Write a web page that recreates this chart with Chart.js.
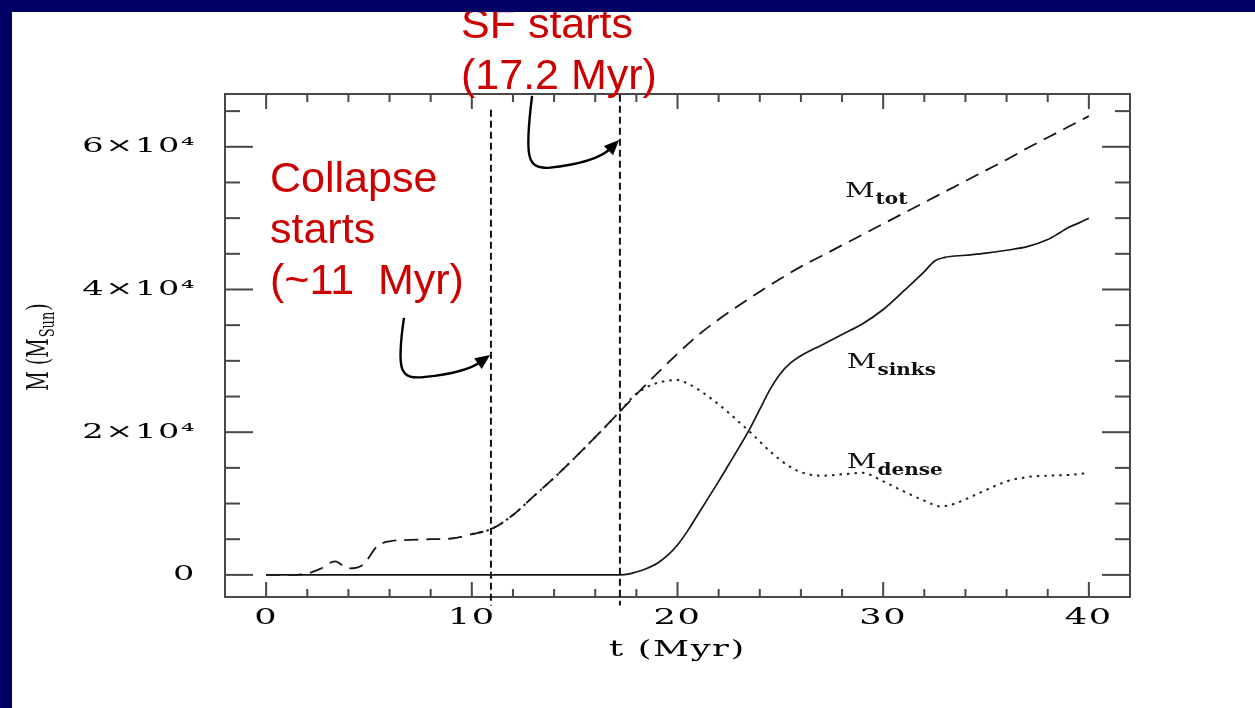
<!DOCTYPE html>
<html><head><meta charset="utf-8">
<script src="https://cdn.jsdelivr.net/npm/chart.js@4.4.1/dist/chart.umd.min.js"></script>
<style>
html,body{margin:0;padding:0;background:#fff;width:1255px;height:708px;overflow:hidden;}
#wrap{position:relative;width:1255px;height:708px;background:#fff;}
.bar{position:absolute;background:#000066;z-index:2;}
canvas{position:absolute;left:0;top:0;z-index:1;}
</style></head><body>
<div id="wrap">
<canvas id="c" width="1255" height="708"></canvas>
<div class="bar" style="left:0;top:0;width:1255px;height:12px"></div>
<div class="bar" style="left:0;top:0;width:12px;height:708px"></div>
</div>
<script>
// ---- data (t in Myr, masses in solar masses) ----
const tTot = [0,1,2,2.6,3.35,4,4.7,5.4,6,7,8,9,10,11,12,13,14,15,16,17,18,19,20,21,22,23,24,25,26,27,28,29,30,31,32,33,34,35,36,37,38,39,40];
const mTot = [0,0,200,800,1900,900,1400,4000,4700,4900,5000,5100,5700,6500,8400,11000,13600,16400,19300,22300,25300,28200,31000,33600,35800,37800,39700,41500,43200,44700,46200,47700,49200,50700,52200,53700,55200,56700,58200,59800,61300,62800,64300];

const tSinks = [0,17.2,17.6,18,18.5,19,19.5,20,20.5,21,21.5,22,22.5,23,23.5,24,24.5,25,25.5,26,27,28,29,30,31,32,32.5,33,34,35,36,37,38,38.5,39,39.5,40];
const mSinks = [0,0,100,400,900,1600,2700,4200,6200,8500,10800,13100,15500,17900,20400,23200,26000,28200,29700,30700,32200,33700,35200,37200,39800,42500,44000,44500,44800,45100,45500,46000,47000,47800,48700,49300,50000];

const tDense = [10,11,12,13,14,15,16,17,17.5,18,18.5,19,19.5,20,20.5,21,21.5,22,22.5,23,23.5,24,24.5,25,25.5,26,27,28,29,30,31,32,32.8,33.5,34,35,36,37,38,39,40];
const mDense = [5700,6500,8400,11000,13600,16400,19300,22300,23900,25400,26300,26900,27200,27300,26800,26000,25000,23900,22700,21400,20100,18700,17300,16100,15100,14400,13900,14100,14300,13100,11700,10400,9600,10000,10600,11900,13100,13700,13900,14000,14300];

// ---- axes / ticks ----
const xTickValues = [0,10,20,30,40];
const xTickLabels = ['0','10','20','30','40'];
const yTickValues = [0,20000,40000,60000];
const yTickLabels = ['0','2×10⁴','4×10⁴','6×10⁴'];
const xTitle = 't (Myr)';

// ---- annotations (data coordinates) ----
const eventTimes = [10.93, 17.2];          // vertical dashed lines
const eventTops = [65200, 67300];
const seriesLabels = [
  {sub:'tot',   t:28.14, v:53000},
  {sub:'sinks', t:28.23, v:28970},
  {sub:'dense', t:28.23, v:14950}
];
const arrows = [
  [[6.70,36020],[6.32,28450],[6.51,27330],[7.73,27750],[9.67,28310],[10.89,30830]],
  [[12.93,67130],[12.54,58160],[12.73,57040],[13.71,57040],[16.04,57740],[17.16,60960]]
];
const noteCollapse = ['Collapse','starts','(~11  Myr)'];
const noteSF = ['SF starts','(17.2 Myr)'];

const toXY = (ts, ms) => ts.map((t,i)=>({x:t, y:ms[i]}));

const annot = {
  id:'annot',
  beforeDraw(chart){
    // axis texts of the original figure are horizontally stretched
    const ctx = chart.ctx;
    const orig = CanvasRenderingContext2D.prototype.fillText;
    ctx.fillText = function(text, x, y){ this.save(); this.translate(x, y); this.scale(1.6, 1); orig.call(this, text, 0, 0); this.restore(); };
    ctx.letterSpacing = '1px';
  },
  beforeDatasetsDraw(chart){ delete chart.ctx.fillText; chart.ctx.letterSpacing = '0px'; },
  afterDraw(chart){
    const ctx = chart.ctx, xs = chart.scales.x, ys = chart.scales.y, a = chart.chartArea;
    delete ctx.fillText;
    const X = v => xs.getPixelForValue(v), Y = v => ys.getPixelForValue(v);
    ctx.save();
    ctx.letterSpacing = '0px';
    const line = (x1,y1,x2,y2) => { ctx.beginPath(); ctx.moveTo(x1,y1); ctx.lineTo(x2,y2); ctx.stroke(); };
    // frame + inward ticks
    ctx.strokeStyle = '#484848'; ctx.lineWidth = 2; ctx.setLineDash([]);
    ctx.strokeRect(a.left, a.top, a.right-a.left, a.bottom-a.top);
    for (let t = 0; t <= 40; t += 2) {
      const px = X(t), L = xTickValues.includes(t) ? 15 : 8;
      line(px, a.bottom, px, a.bottom-L); line(px, a.top, px, a.top+L);
    }
    for (let v = 0; v <= 65000; v += 5000) {
      const py = Y(v), L = yTickValues.includes(v) ? 28 : 15;
      line(a.left, py, a.left+L, py); line(a.right, py, a.right-L, py);
    }
    // vertical event lines
    ctx.strokeStyle = '#111'; ctx.lineWidth = 2; ctx.setLineDash([7,4]);
    eventTimes.forEach((t,i) => line(X(t), Y(eventTops[i]), X(t), Y(-4300)));
    ctx.setLineDash([]);
    // arrows
    ctx.strokeStyle = '#000'; ctx.fillStyle = '#000'; ctx.lineWidth = 2.4;
    arrows.forEach(p => {
      const q = p.map(([t,v]) => [X(t), Y(v)]);
      ctx.beginPath();
      ctx.moveTo(q[0][0], q[0][1]);
      ctx.bezierCurveTo(q[1][0],q[1][1],q[2][0],q[2][1],q[3][0],q[3][1]);
      const ang = Math.atan2(q[5][1]-q[4][1], q[5][0]-q[4][0]);
      const hl = 15, hw = 6.5;
      const bx = q[5][0]-hl*Math.cos(ang), by = q[5][1]-hl*Math.sin(ang);
      ctx.quadraticCurveTo(q[4][0],q[4][1],bx+3*Math.cos(ang),by+3*Math.sin(ang));
      ctx.stroke();
      ctx.beginPath();
      ctx.moveTo(q[5][0], q[5][1]);
      ctx.lineTo(bx - hw*Math.sin(ang), by + hw*Math.cos(ang));
      ctx.lineTo(bx + hw*Math.sin(ang), by - hw*Math.cos(ang));
      ctx.closePath(); ctx.fill();
    });
    // series labels
    ctx.fillStyle = '#111'; ctx.textBaseline = 'alphabetic'; ctx.textAlign = 'left';
    seriesLabels.forEach(s => {
      const px = X(s.t), py = Y(s.v);
      ctx.save(); ctx.translate(px, py); ctx.scale(1.45,1);
      ctx.font = '20px "DejaVu Serif"'; ctx.fillText('M', 0, 0);
      const w = ctx.measureText('M').width * 1.45;
      ctx.restore();
      ctx.save(); ctx.translate(px + w + 1, py + 7); ctx.scale(1.25,1);
      ctx.font = 'bold 16px "DejaVu Serif"'; ctx.fillText(s.sub, 0, 0);
      ctx.restore();
    });
    // y axis title  M (M_Sun)
    ctx.save();
    ctx.translate(48, 347); ctx.rotate(-Math.PI/2); ctx.scale(1, 1.6);
    ctx.font = '19px "DejaVu Serif"';
    const p1 = 'M (M', p3 = ')';
    const w1 = ctx.measureText(p1).width, w3 = ctx.measureText(p3).width;
    ctx.font = '13px "DejaVu Serif"';
    const w2 = ctx.measureText('Sun').width;
    let sx = -(w1+w2+w3+2)/2;
    ctx.font = '19px "DejaVu Serif"'; ctx.fillText(p1, sx, 0);
    ctx.font = '13px "DejaVu Serif"'; ctx.fillText('Sun', sx + w1 + 1, 4);
    ctx.font = '19px "DejaVu Serif"'; ctx.fillText(p3, sx + w1 + w2 + 2, 0);
    ctx.restore();
    // red notes
    ctx.fillStyle = '#cc0000'; ctx.font = '43px "Liberation Sans"'; ctx.textAlign = 'left';
    noteCollapse.forEach((s,i) => ctx.fillText(s, 270, 192 + 51*i));
    noteSF.forEach((s,i) => ctx.fillText(s, 461, 38 + 51*i));
    ctx.restore();
  }
};

new Chart(document.getElementById('c'), {
  type: 'scatter',
  data: {
    datasets: [
      {label:'M_sinks', data: toXY(tSinks, mSinks), showLine:true, borderColor:'#151515', borderWidth:1.7, pointRadius:0, cubicInterpolationMode:'monotone'},
      {label:'M_tot', data: toXY(tTot, mTot), showLine:true, borderColor:'#151515', borderWidth:1.8, borderDash:[14,8], pointRadius:0, cubicInterpolationMode:'monotone'},
      {label:'M_dense', data: toXY(tDense, mDense), showLine:true, borderColor:'#222', borderWidth:2, borderDash:[2.5,5], pointRadius:0, cubicInterpolationMode:'monotone'}
    ]
  },
  options: {
    responsive:false, animation:false, devicePixelRatio:1,
    layout:{padding:{left:0, top:94, right:125, bottom:0}},
    plugins:{legend:{display:false}, tooltip:{enabled:false}},
    scales:{
      x:{type:'linear', position:'bottom', min:-2, max:42,
        grid:{display:false, drawTicks:false}, border:{display:false},
        afterBuildTicks: ax => { ax.ticks = xTickValues.map(v => ({value:v})); },
        afterFit: ax => { ax.height = 111; },
        ticks:{autoSkip:false, maxRotation:0, padding:8, color:'#000',
          font:{family:'"DejaVu Serif"', size:22},
          callback: v => xTickLabels[xTickValues.indexOf(v)]},
        title:{display:true, text:xTitle, color:'#000', font:{family:'"DejaVu Serif"', size:22}, padding:{top:0,bottom:45}}
      },
      y:{type:'linear', min:-3100, max:67400,
        grid:{display:false, drawTicks:false}, border:{display:false},
        afterBuildTicks: ax => { ax.ticks = yTickValues.map(v => ({value:v})); },
        afterFit: ax => { ax.width = 225; },
        ticks:{autoSkip:false, padding:29, color:'#000',
          font:{family:'"DejaVu Serif"', size:21},
          callback: v => yTickLabels[yTickValues.indexOf(v)]}
      }
    }
  },
  plugins:[annot]
});
</script>
</body></html>
